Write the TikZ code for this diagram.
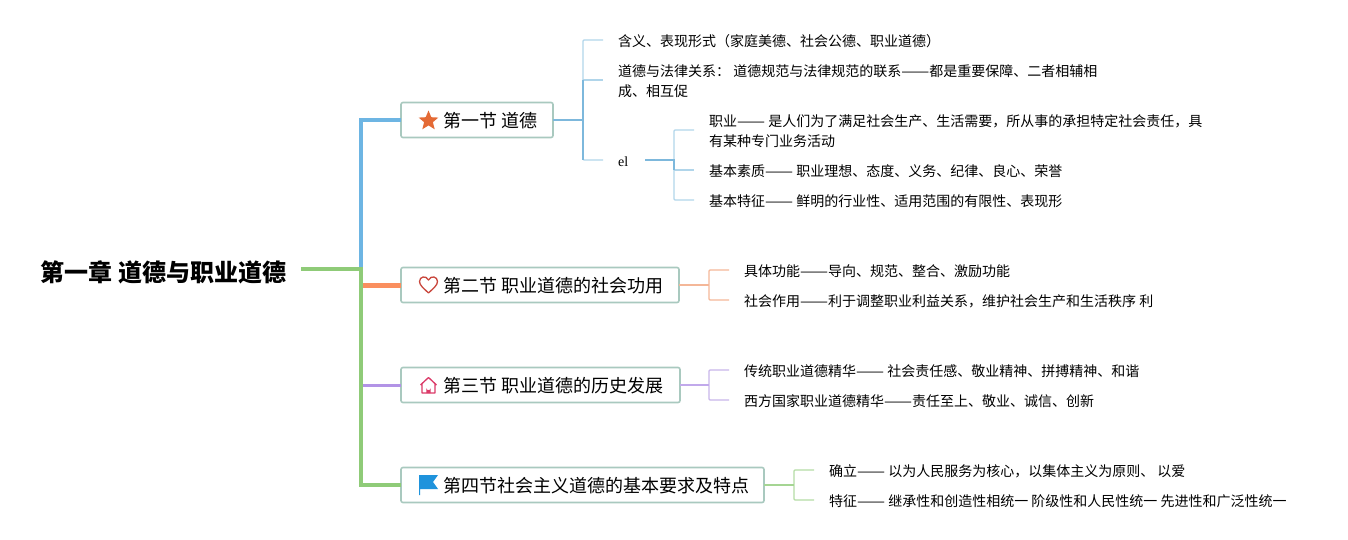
\documentclass[tikz,border=0pt]{standalone}
\usepackage{fontspec}
\setmainfont{Noto Sans CJK SC}
\newfontfamily\elfont{Liberation Serif}
\usetikzlibrary{calc}
\newcommand{\longdash}{\resizebox{2em}{\height}{——}}
\definecolor{cgreen}{HTML}{8FCB78}
\definecolor{cblue}{HTML}{6DB5E3}
\definecolor{corange}{HTML}{FA8F5F}
\definecolor{cpurple}{HTML}{B293E6}
\definecolor{cbox}{HTML}{A9C9BF}
\definecolor{lblue}{HTML}{B0D5EA}
\definecolor{mblue}{HTML}{7DB8DC}
\definecolor{lorange}{HTML}{F4B798}
\definecolor{lpurple}{HTML}{C8B6EA}
\definecolor{lgreen}{HTML}{B4DCA4}
\definecolor{istar}{HTML}{E46A35}
\definecolor{iheart}{HTML}{C9463C}
\definecolor{ihouse}{HTML}{DB3A68}
\definecolor{iflag}{HTML}{1F93DC}
\tikzset{
  x=1pt,y=-1pt,
  rootnode/.style={anchor=west,inner sep=0pt,font=\fontsize{24}{26}\selectfont\bfseries},
  secbox/.style={anchor=west,draw=cbox,line width=1.6pt,outer sep=0pt,rounded corners=2pt,minimum height=35pt,inner sep=0pt,fill=white,font=\fontsize{18}{22}\selectfont},
  sectext/.style={anchor=west,inner sep=0pt,font=\fontsize{18}{22}\selectfont},
  leaf/.style={anchor=west,inner sep=0pt,align=left,font=\fontsize{14}{20}\selectfont},
  main/.style={line width=#1,line join=miter},
  twig/.style={line width=1.3pt,rounded corners=1pt},
}
\begin{document}
\begin{tikzpicture}
\useasboundingbox (0,0) rectangle (1348,540);
% root
\node[rootnode] (root) at (40.5,272) {第一章 道德与职业道德};
\coordinate (rootend) at (301,269);
\coordinate (hub) at (361,269);
% sections
\node[secbox,minimum width=152pt] (s1) at (401,120) {};
\node[secbox,minimum width=278pt] (s2) at (401,285) {};
\node[secbox,minimum width=279pt] (s3) at (401,385) {};
\node[secbox,minimum width=363pt] (s4) at (401,485) {};
\node[sectext] (t1) at (443,121) {第一节 道德};
\node[sectext] (t2) at (443,286) {第二节 职业道德的社会功用};
\node[sectext] (t3) at (443,386) {第三节 职业道德的历史发展};
\node[sectext] (t4) at (443,486) {第四节社会主义道德的基本要求及特点};
% trunk
\draw[cblue,main=3.6pt] (hub) -- (hub |- s1.west) -- (s1.west);
\draw[corange,main=5pt] (hub |- s2.west) -- (s2.west);
\draw[cpurple,main=3pt] (hub |- s3.west) -- (s3.west);
\draw[cgreen,main=4pt] (rootend) -- (hub) -- (hub |- s4.west) -- (s4.west);
% icons
\fill[istar] (428.5,110.5) -- (431.3,117.2) -- (438.3,117.6) -- (432.9,122.2) -- (434.7,129.3) -- (428.5,125.4) -- (422.3,129.3) -- (424.1,122.2) -- (418.7,117.6) -- (425.7,117.2) -- cycle;
\draw[iheart,line width=1.3pt,line join=round] (428.5,293) .. controls (424,288.5) and (419.5,285.5) .. (419.5,281.5) .. controls (419.5,276.5) and (426,275) .. (428.5,280) .. controls (431,275) and (437.5,276.5) .. (437.5,281.5) .. controls (437.5,285.5) and (433,288.5) .. (428.5,293) -- cycle;
\draw[ihouse,line width=1.3pt,line join=round] (420.5,385) -- (428.5,377.5) -- (436.5,385) (422,384) -- (422,393) -- (435,393) -- (435,384);
\fill[ihouse] (426.3,393) -- (426.3,388) arc[start angle=180,end angle=0,radius=2.2] -- (430.7,393) -- cycle;
\fill[iflag] (419,475) -- (438,475) -- (433,482) -- (438,489) -- (420,489) -- (420,495) -- (419,495) -- cycle;
% section 1 leaves
\node[leaf] (a1) at (618,41.5) {含义、表现形式（家庭美德、社会公德、职业道德）};
\node[leaf] (a2) at (618,81.5) {道德与法律关系： 道德规范与法律规范的联系\longdash 都是重要保障、二者相辅相\\成、相互促};
\node[anchor=west,inner sep=0pt,font=\fontsize{14}{16}\selectfont\elfont] (a3) at (618,161.5) {el};
\coordinate (a1e) at (603,40);
\coordinate (a2e) at (603,80);
\coordinate (a3e) at (603,160);
\coordinate (b1) at (583,120);
\draw[lblue,twig] (a1e) -- (b1 |- a1e) -- (b1 |- a3e) -- (a3e);
\draw[lblue,twig] (b1 |- a2e) -- (a2e);
\draw[mblue,line width=1.5pt] (s1.east) -- (b1);
\draw[mblue,line width=1.3pt] (b1 |- a2e) -- (b1) -- (b1 |- a3e);
% el leaves
\node[leaf] (c1) at (709,131.5) {职业\longdash{} 是人们为了满足社会生产、生活需要，所从事的承担特定社会责任，具\\有某种专门业务活动};
\node[leaf] (c2) at (709,171.5) {基本素质\longdash{} 职业理想、态度、义务、纪律、良心、荣誉};
\node[leaf] (c3) at (709,201.5) {基本特征\longdash{} 鲜明的行业性、适用范围的有限性、表现形};
\coordinate (c1e) at (694,130);
\coordinate (c2e) at (694,170);
\coordinate (c3e) at (694,200);
\coordinate (elout) at (645,160);
\coordinate (b2) at (674,160);
\draw[lblue,twig] (c1e) -- (b2 |- c1e) -- (b2 |- c3e) -- (c3e);
\draw[lblue,twig] (b2 |- c2e) -- (c2e);
\draw[mblue,line width=1.6pt] (elout) -- (b2) -- (b2 |- c2e);
% section 2 leaves
\node[leaf] (d1) at (744,271.5) {具体功能\longdash 导向、规范、整合、激励功能};
\node[leaf] (d2) at (744,301.5) {社会作用\longdash 利于调整职业利益关系，维护社会生产和生活秩序 利};
\coordinate (d1e) at (729,270);
\coordinate (d2e) at (729,300);
\coordinate (b3) at (709,285);
\draw[lorange,twig] (d1e) -- (b3 |- d1e) -- (b3 |- d2e) -- (d2e);
\draw[lorange,line width=1.5pt] (s2.east) -- (b3);
% section 3 leaves
\node[leaf] (e1) at (744,371.5) {传统职业道德精华\longdash{} 社会责任感、敬业精神、拼搏精神、和谐};
\node[leaf] (e2) at (744,401.5) {西方国家职业道德精华\longdash 责任至上、敬业、诚信、创新};
\coordinate (e1e) at (729,370);
\coordinate (e2e) at (729,400);
\coordinate (b4) at (709,385);
\draw[lpurple,twig] (e1e) -- (b4 |- e1e) -- (b4 |- e2e) -- (e2e);
\draw[cpurple!80,line width=1.5pt] (s3.east) -- (b4);
% section 4 leaves
\node[leaf] (f1) at (829,471.5) {确立\longdash{} 以为人民服务为核心，以集体主义为原则、 以爱};
\node[leaf] (f2) at (829,501.5) {特征\longdash{} 继承性和创造性相统一 阶级性和人民性统一 先进性和广泛性统一};
\coordinate (f1e) at (814,470);
\coordinate (f2e) at (814,500);
\coordinate (b5) at (794,485);
\draw[lgreen,twig] (f1e) -- (b5 |- f1e) -- (b5 |- f2e) -- (f2e);
\draw[cgreen!80,line width=1.5pt] (s4.east) -- (b5);
\end{tikzpicture}
\end{document}
